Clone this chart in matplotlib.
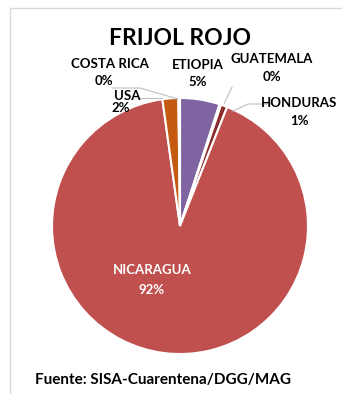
import matplotlib
matplotlib.use("Agg")
import matplotlib.pyplot as plt

# data (clockwise from 12 o'clock)
paises = ["ETIOPIA", "GUATEMALA", "HONDURAS", "NICARAGUA", "USA", "COSTA RICA"]
valores = [5.0, 0.2, 0.8, 91.8, 2.0, 0.2]
etiquetas = ["5%", "0%", "1%", "92%", "2%", "0%"]
colores = ["#8064A2", "#4F81BD", "#8B2B2B", "#C0504D", "#C55A11", "#9BBB59"]

plt.rcParams["font.family"] = ["Lato", "DejaVu Sans"]

W, H = 342, 394
fig = plt.figure(figsize=(W / 100, H / 100), dpi=100)
ax = fig.add_axes([0, 0, 1, 1])

def py(y):
    return H - y

# chart border (top and left)
ax.plot([10, 10, W], [py(H), py(8), py(8)], color="#d9d9d9", lw=1)

wedges, _ = ax.pie(valores, colors=colores, startangle=90, counterclock=False,
                   center=(180, py(226)), radius=128,
                   explode=[0.02, 0.02, 0.02, 0.03, 0.02, 0.02],
                   wedgeprops=dict(edgecolor="white", linewidth=1.5),
                   frame=True)
ax.set_xlim(0, W)
ax.set_ylim(0, H)
ax.set_aspect("equal")
ax.axis("off")

fs = 9.5
tk = dict(ha="center", va="center", fontsize=fs, fontweight="bold", color="black")
ax.text(180, py(38), "FRIJOL ROJO", ha="center", va="center", fontsize=16.5,
        fontweight="bold")

# leader lines
lc = dict(color="#bfbfbf", lw=0.8)
ax.plot([112, 140, 178], [py(88), py(88), py(99)], **lc)
ax.plot([138, 162], [py(98), py(98)], **lc)
ax.plot([232, 224], [py(87), py(104)], **lc)
ax.plot([272, 248, 233], [py(104), py(104), py(111)], **lc)

ax.text(110, py(64), "COSTA RICA", **tk)
ax.text(104, py(81), etiquetas[5], **tk)
ax.text(127, py(96), "USA", **tk)
ax.text(121, py(108), etiquetas[4], **tk)
ax.text(198, py(65), "ETIOPIA", **tk)
ax.text(198, py(82), etiquetas[0], **tk)
ax.text(272, py(59), "GUATEMALA", **tk)
ax.text(272, py(77), etiquetas[1], **tk)
ax.text(299, py(103), "HONDURAS", **tk)
ax.text(299, py(121), etiquetas[2], **tk)
ax.text(152, py(270), "NICARAGUA", ha="center", va="center", fontsize=fs,
        fontweight="bold", color="white")
ax.text(152, py(290), etiquetas[3], ha="center", va="center", fontsize=fs,
        fontweight="bold", color="white")

ax.text(35, py(380), "Fuente: SISA-Cuarentena/DGG/MAG", ha="left", va="center",
        fontsize=11, fontweight="bold")

fig.savefig("out.png", dpi=100)
